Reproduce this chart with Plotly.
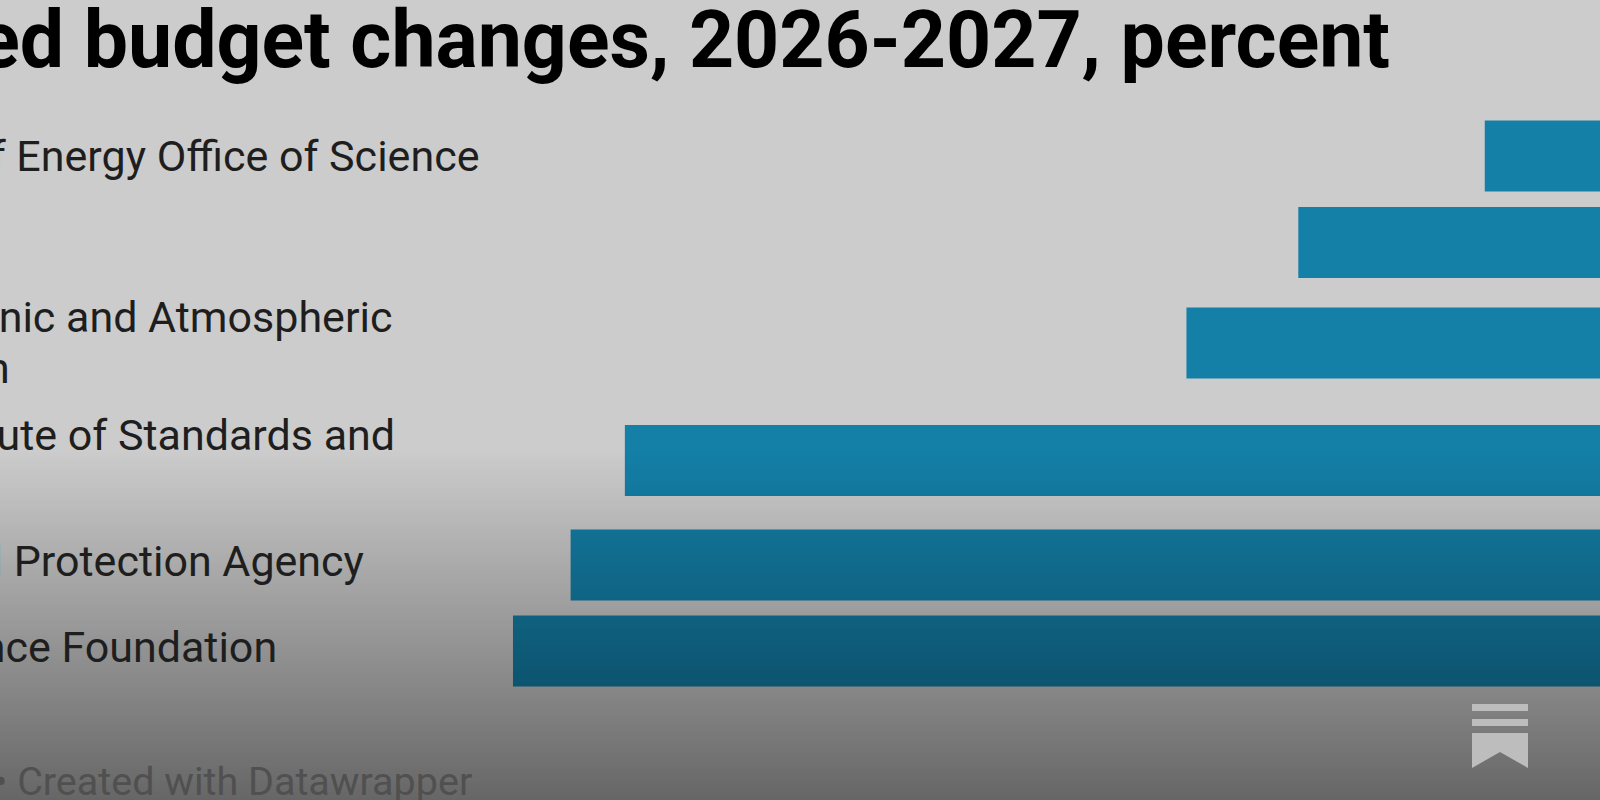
import plotly.graph_objects as go

# Data (percent budget change)
agencies = [
    "Department of Energy Office of Science",
    "NASA",
    "National Oceanic and Atmospheric<br>Administration",
    "National Institute of Standards and<br>Technology",
    "Environmental Protection Agency",
    "National Science Foundation",
]
changes = [-14.0, -22.25, -27.2, -52.05, -54.45, -57.0]
title_text = "Proposed budget changes, 2026-2027, percent"
footer_text = "• Created with Datawrapper"

# Layout
W, H = 1600, 800
row_centres = [156, 242.5, 343, 460.5, 565, 651]
label_nudge = [0, 0, -1, 0, -4, -4]
BAR_H = 71
LABEL_X = -273
LINE_GAP = 51
FONT = "Roboto"


def px(x):
    return x / W


def py(y):
    return 1 - y / H


fig = go.Figure(
    go.Bar(
        x=changes,
        y=row_centres,
        orientation="h",
        width=BAR_H,
        marker=dict(color="#147fa7", line=dict(width=0)),
        hoverinfo="skip",
    )
)

annotations = [
    dict(
        text=f"<b>{title_text}</b>",
        xref="paper", yref="paper", x=px(1392), y=py(40),
        xanchor="right", yanchor="middle", showarrow=False,
        font=dict(family=FONT, size=78.8, color="#000000"),
    ),
    dict(
        text=footer_text,
        xref="paper", yref="paper", x=px(474), y=py(781),
        xanchor="right", yanchor="middle", showarrow=False,
        font=dict(family=FONT, size=39.5, color="#505050"),
    ),
]
for name, yc, nudge in zip(agencies, row_centres, label_nudge):
    lines = name.split("<br>")
    first = yc + nudge - LINE_GAP * (len(lines) - 1) / 2
    for i, line in enumerate(lines):
        annotations.append(
            dict(
                text=line,
                xref="paper", yref="y", x=px(LABEL_X), y=first + i * LINE_GAP,
                xanchor="left", yanchor="middle", align="left", showarrow=False,
                font=dict(family=FONT, size=43, color="#1e1e1e"),
            )
        )

shapes = []
# darkening gradient towards the bottom, over the bars
G_START, G_END, STEP = 450, 800, 2
for top in range(G_START, G_END, STEP):
    alpha = (top - G_START) / (G_END - G_START) * 0.5
    shapes.append(
        dict(
            type="rect", xref="paper", yref="paper", layer="above",
            x0=0, x1=1, y0=py(top), y1=py(top + STEP),
            fillcolor=f"rgba(0,0,0,{alpha:.4f})", line=dict(width=0),
        )
    )
# bookmark icon
ICON = "#bdbdbd"
for t, b in [(704, 711), (719, 726)]:
    shapes.append(
        dict(
            type="rect", xref="paper", yref="paper", layer="above",
            x0=px(1472), x1=px(1528), y0=py(t), y1=py(b),
            fillcolor=ICON, line=dict(width=0),
        )
    )
ribbon = [(1472, 733), (1528, 733), (1528, 768), (1500, 752), (1472, 768)]
path = "M " + " L ".join(f"{px(a):.5f},{py(b):.5f}" for a, b in ribbon) + " Z"
shapes.append(
    dict(
        type="path", xref="paper", yref="paper", layer="above",
        path=path, fillcolor=ICON, line=dict(width=0),
    )
)

fig.update_layout(
    width=W,
    height=H,
    margin=dict(l=0, r=0, t=0, b=0),
    paper_bgcolor="#cccccc",
    plot_bgcolor="#cccccc",
    showlegend=False,
    xaxis=dict(range=[-79.7, -8.9], visible=False, fixedrange=True),
    yaxis=dict(range=[H, 0], visible=False, fixedrange=True),
    annotations=annotations,
    shapes=shapes,
)

fig.write_html(
    "out.html",
    post_script="document.body.style.margin='0';document.body.style.background='#cccccc';",
    config={"displayModeBar": False},
)
